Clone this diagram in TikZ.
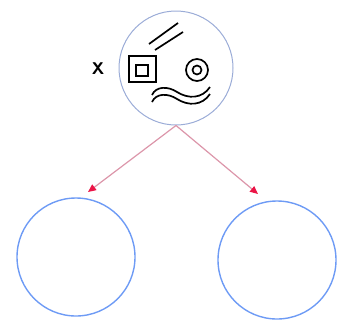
\documentclass[tikz,border=0pt]{standalone}
\usepackage{tikz}
\usetikzlibrary{arrows.meta}
\definecolor{topline}{RGB}{155,172,215}
\definecolor{ballblue}{RGB}{110,155,245}
\definecolor{arrowline}{RGB}{220,150,170}
\definecolor{arrowhead}{RGB}{235,20,70}

\begin{document}
\begin{tikzpicture}[x=1pt, y=-1pt,
  top/.style = {draw=topline, line width=1pt, circle, inner sep=0pt, minimum size=114pt},
  ball/.style = {draw=ballblue, line width=1.4pt, circle, inner sep=0pt, minimum size=118pt},
  ink/.style = {line width=1.7pt, black},
  split/.style = {draw=arrowline, line width=1.2pt, -{Triangle[color=arrowhead, length=8pt, width=7pt]}}]
\useasboundingbox (0,0) rectangle (337,322);
\node[top] (p) at (176,68) {};
\node[ball] (l) at (76,257) {};
\node[ball] (r) at (277,260) {};
\node[font=\sffamily\bfseries\fontsize{17}{17}\selectfont] (x) at (98,69) {X};
\coordinate (lt) at (88,192);
\coordinate (rt) at (258,194);
\draw[split] (p.south) -- (lt);
\draw[split] (p.south) -- (rt);
\draw[ink] (129,56) rectangle (156,82);
\draw[ink] (136,65) rectangle (148,76);
\draw[ink] (149,44) -- (178,23);
\draw[ink] (155,50) -- (183,32);
\draw[ink] (197,70) circle (11pt);
\draw[ink] (197,70) circle (4.5pt);
\draw[ink] (152,95) .. controls (156,86) and (168,86) .. (177,92)
  .. controls (188,99) and (202,99) .. (210,87);
\draw[ink] (152,102) .. controls (156,93) and (168,93) .. (177,99)
  .. controls (188,106) and (202,106) .. (210,94);
\end{tikzpicture}
\end{document}
